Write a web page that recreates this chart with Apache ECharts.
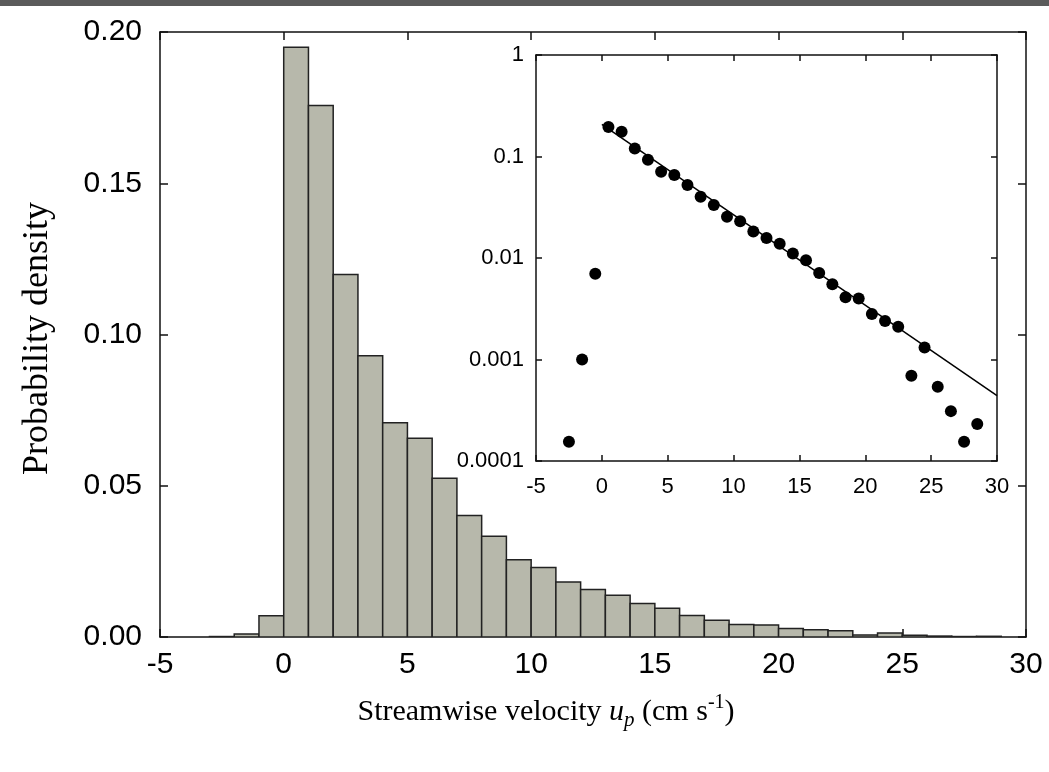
<!DOCTYPE html>
<html><head><meta charset="utf-8">
<script src="https://cdn.jsdelivr.net/npm/echarts@6/dist/echarts.min.js"></script>
<style>html,body{margin:0;padding:0;background:#fff}#c{width:1049px;height:772px}</style>
</head><body><div id="c"></div>
<script>
// bin centres (cm/s), bin width 1
const binCenters = [-2.5,-1.5,-0.5,0.5,1.5,2.5,3.5,4.5,5.5,6.5,7.5,8.5,9.5,10.5,11.5,12.5,13.5,14.5,15.5,16.5,17.5,18.5,19.5,20.5,21.5,22.5,23.5,24.5,25.5,26.5,27.5,28.5];
const density = [0.000155,0.0010,0.0070,0.195,0.1757,0.1198,0.0930,0.0708,0.0657,0.0525,0.0402,0.0333,0.0255,0.0230,0.0182,0.0157,0.0138,0.0111,0.0095,0.0071,0.0055,0.0041,0.0040,0.0028,0.0024,0.0021,0.00069,0.00131,0.00054,0.00031,0.000155,0.000232];
const binWidth = 1;
// exponential fit line end points (inset)
const fitX = [0, 30];
const fitY = [0.207, 0.00044];
const mainYTickLabels = ['0.00','0.05','0.10','0.15','0.20'];

const chart = echarts.init(document.getElementById('c'), null, {renderer:'canvas'});
const sans = 'Liberation Sans, Arial, sans-serif';
const serif = 'Liberation Serif, Times New Roman, serif';
const lineCol = '#111';

const histData = binCenters.map((c,i)=>[c, density[i]]);
const fitData = fitX.map((x,i)=>[x, fitY[i]]);

function frameAxis(extra){
  return Object.assign({
    axisLine:{show:true,onZero:false,lineStyle:{color:lineCol,width:1.5}},
    axisTick:{show:true,inside:true,length:8,lineStyle:{color:lineCol,width:1.5}},
    axisLabel:{show:false},
    splitLine:{show:false}
  }, extra);
}

const option = {
  backgroundColor:'#fff',
  animation:false,
  graphic:[{type:'rect',left:0,top:0,shape:{width:1049,height:6},style:{fill:'#5b5b5b'},silent:true}],
  grid:[
    {left:160,right:23,top:32,bottom:135,containLabel:false},
    {left:536,right:52,top:55,bottom:311,containLabel:false}
  ],
  xAxis:[
    frameAxis({gridIndex:0,type:'value',min:-5,max:30,interval:5,position:'bottom',
      axisLabel:{show:true,fontFamily:sans,fontSize:30,color:'#000',margin:13},
      name:'{a|Streamwise velocity }{i|u}{s|p}{a| (cm s}{sup|-1}{a|)}',
      nameLocation:'middle',nameGap:56,
      nameTextStyle:{padding:[0,94,0,0],rich:{
        a:{fontFamily:serif,fontSize:30,color:'#000',lineHeight:38},
        i:{fontFamily:serif,fontSize:30,fontStyle:'italic',color:'#000',lineHeight:38},
        s:{fontFamily:serif,fontSize:21,fontStyle:'italic',color:'#000',lineHeight:12,verticalAlign:'bottom'},
        sup:{fontFamily:serif,fontSize:20,color:'#000',lineHeight:14,verticalAlign:'top'}
      }}}),
    frameAxis({gridIndex:0,type:'value',min:-5,max:30,interval:5,position:'top'}),
    frameAxis({gridIndex:1,type:'value',min:-5,max:30,interval:5,position:'bottom',
      axisTick:{show:true,inside:true,length:6,lineStyle:{color:lineCol,width:1.5}},
      axisLabel:{show:true,fontFamily:sans,fontSize:22,color:'#000',margin:15}}),
    frameAxis({gridIndex:1,type:'value',min:-5,max:30,interval:5,position:'top',
      axisTick:{show:true,inside:true,length:6,lineStyle:{color:lineCol,width:1.5}}})
  ],
  yAxis:[
    frameAxis({gridIndex:0,type:'value',min:0,max:0.2,interval:0.05,position:'left',
      axisLabel:{show:true,fontFamily:sans,fontSize:30,color:'#000',margin:18,
        formatter:(v)=>mainYTickLabels[Math.round(v/0.05)]},
      name:'Probability density',nameLocation:'middle',nameRotate:90,nameGap:104,
      nameTextStyle:{fontFamily:serif,fontSize:36,color:'#000',padding:[0,8,0,0]}}),
    frameAxis({gridIndex:0,type:'value',min:0,max:0.2,interval:0.05,position:'right'}),
    frameAxis({gridIndex:1,type:'log',logBase:10,min:0.0001,max:1,position:'left',
      axisTick:{show:true,inside:true,length:6,lineStyle:{color:lineCol,width:1.5}},
      minorTick:{show:false},
      axisLabel:{show:true,fontFamily:sans,fontSize:22,color:'#000',margin:12,
        formatter:(v)=>String(parseFloat(Number(v).toPrecision(6)))}}),
    frameAxis({gridIndex:1,type:'log',logBase:10,min:0.0001,max:1,position:'right',
      axisTick:{show:true,inside:true,length:6,lineStyle:{color:lineCol,width:1.5}},
      minorTick:{show:false}})
  ],
  series:[
    {type:'custom',xAxisIndex:0,yAxisIndex:0,data:histData,clip:true,
      renderItem:function(params, api){
        const c = api.value(0), v = api.value(1);
        const p0 = api.coord([c - binWidth/2, v]);
        const p1 = api.coord([c + binWidth/2, 0]);
        return {type:'rect',shape:{x:p0[0],y:p0[1],width:p1[0]-p0[0],height:p1[1]-p0[1]},
          style:{fill:'#b7b8ab',stroke:'#222',lineWidth:1.5}};
      }},
    {type:'line',xAxisIndex:2,yAxisIndex:2,data:fitData,showSymbol:false,symbol:'none',
      lineStyle:{color:'#000',width:1.5},z:3},
    {type:'scatter',xAxisIndex:2,yAxisIndex:2,data:histData,symbol:'circle',symbolSize:12,
      itemStyle:{color:'#000',opacity:1},z:4}
  ]
};
chart.setOption(option);
</script>
</body></html>
